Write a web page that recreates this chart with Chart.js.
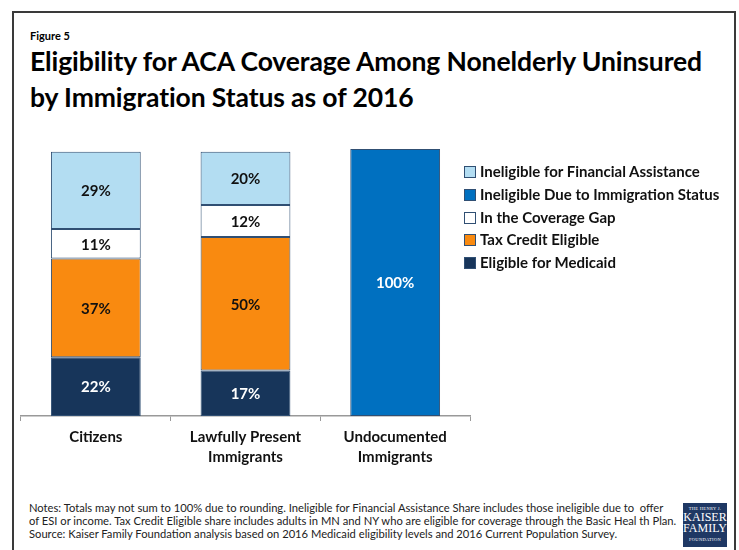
<!DOCTYPE html>
<html>
<head>
<meta charset="utf-8">
<script src="https://cdn.jsdelivr.net/npm/chart.js@4.4.1/dist/chart.umd.min.js"></script>
<style>
  body { margin: 0; background: #fff; font-family: Lato, "Open Sans", sans-serif; color: #000; }
  #page { position: relative; width: 739px; height: 550px; overflow: hidden; }
  #frame { position: absolute; left: 12px; top: 11px; width: 720px; height: 600px; border: 2px solid #3a3a3a; }
  #fig { position: absolute; left: 30px; top: 29px; font-size: 11px; font-weight: 700; }
  #title { position: absolute; left: 30px; top: 43px; font-size: 26.5px; font-weight: 700; line-height: 36px; white-space: nowrap; letter-spacing: -0.1px; }
  #chartBox { position: absolute; left: 0; top: 130px; }
  #legend { position: absolute; left: 464px; top: 162px; font-size: 15px; font-weight: 700; color: #111; }
  #legend div { height: 22.75px; line-height: 18px; white-space: nowrap; }
  #legend span { display: inline-block; width: 10px; height: 10px; border: 1px solid #304f73; margin-right: 4px; vertical-align: -1px; }
  #notes { position: absolute; left: 29px; top: 501px; font-size: 11.2px; line-height: 13px; color: #222; white-space: nowrap; }
  #logo { position: absolute; left: 683px; top: 503px; width: 44px; height: 44px; background: #1f3864; color: #fff; text-align: center; font-family: "Liberation Serif", serif; }
  #logo .s { font-size: 4.5px; line-height: 7px; letter-spacing: 0.3px; padding-top: 2px; }
  #logo .b { font-size: 12px; line-height: 11px; }
</style>
</head>
<body>
<div id="page">
  <div id="frame"></div>
  <div id="fig">Figure 5</div>
  <div id="title">Eligibility for ACA Coverage Among Nonelderly Uninsured<br>by Immigration Status as of 2016</div>
  <div id="chartBox"><canvas id="chart" width="739" height="350"></canvas></div>
  <div id="legend"></div>
  <div id="notes">Notes: Totals may not sum to 100% due to rounding. Ineligible for Financial Assistance Share includes those ineligible due to &nbsp;offer<br>of ESI or income. Tax Credit Eligible share includes adults in MN and NY who are eligible for coverage through the Basic Heal th Plan.<br>Source: Kaiser Family Foundation analysis based on 2016 Medicaid eligibility levels and 2016 Current Population Survey.</div>
  <div id="logo"><div class="s">THE HENRY J.</div><div class="b">KAISER</div><div class="b">FAMILY</div><div class="s">FOUNDATION</div></div>
</div>
<script>
const categories = [['Citizens'], ['Lawfully Present', 'Immigrants'], ['Undocumented', 'Immigrants']];
// stacked bottom to top
const eligibleMedicaid = [22, 17, null];
const taxCreditEligible = [37, 50, null];
const coverageGap = [11, 12, null];
const ineligibleImmigration = [null, null, 100];
const ineligibleFinancial = [29, 20, null];

const outline = '#304f73';

// percent labels in the middle of each segment
const segmentLabels = {
    id: 'segmentLabels',
    afterDatasetsDraw(chart) {
        const ctx = chart.ctx;
        ctx.save();
        ctx.font = 'bold 15px Lato, sans-serif';
        ctx.textAlign = 'center';
        ctx.textBaseline = 'middle';
        chart.data.datasets.forEach((ds, i) => {
            chart.getDatasetMeta(i).data.forEach((bar, j) => {
                const v = ds.data[j];
                if (v == null) return;
                const p = bar.getProps(['x', 'y', 'base'], true);
                ctx.fillStyle = ds.labelColor;
                ctx.fillText(v + '%', p.x, (p.y + p.base) / 2 + 1);
            });
        });
        ctx.restore();
    }
};

const chart = new Chart(document.getElementById('chart'), {
    type: 'bar',
    data: {
        labels: categories,
        datasets: [
            { label: 'Eligible for Medicaid', data: eligibleMedicaid, backgroundColor: '#17355a', labelColor: '#fff' },
            { label: 'Tax Credit Eligible', data: taxCreditEligible, backgroundColor: '#f98a10', labelColor: '#111' },
            { label: 'In the Coverage Gap', data: coverageGap, backgroundColor: '#ffffff', labelColor: '#111' },
            { label: 'Ineligible Due to Immigration Status', data: ineligibleImmigration, backgroundColor: '#0070c0', labelColor: '#fff' },
            { label: 'Ineligible for Financial Assistance', data: ineligibleFinancial, backgroundColor: '#b3ddf2', labelColor: '#111' }
        ].map(ds => Object.assign(ds, { borderColor: outline, borderWidth: 1, borderSkipped: false, categoryPercentage: 1, barPercentage: 0.6 }))
    },
    options: {
        responsive: false,
        animation: false,
        layout: { padding: { left: 21, right: 269, top: 19 } },
        scales: {
            x: {
                stacked: true,
                grid: { display: true, drawOnChartArea: false, drawTicks: true, tickLength: 5, color: '#999', offset: true },
                border: { display: true, color: '#999', width: 1.5 },
                ticks: { color: '#111', font: { family: 'Lato', size: 15, weight: 'bold', lineHeight: 1.35 }, padding: 6, maxRotation: 0 },
                afterFit(scale) { scale.height = 64; }
            },
            y: { stacked: true, display: false, min: 0, max: 100 }
        },
        plugins: {
            legend: { display: false },
            tooltip: { enabled: false }
        }
    },
    plugins: [segmentLabels]
});

// html legend, top item first
const legendEl = document.getElementById('legend');
chart.data.datasets.slice().reverse().forEach(ds => {
    const row = document.createElement('div');
    row.innerHTML = `<span style="background:${ds.backgroundColor}"></span>${ds.label}`;
    legendEl.appendChild(row);
});
</script>
</body>
</html>
